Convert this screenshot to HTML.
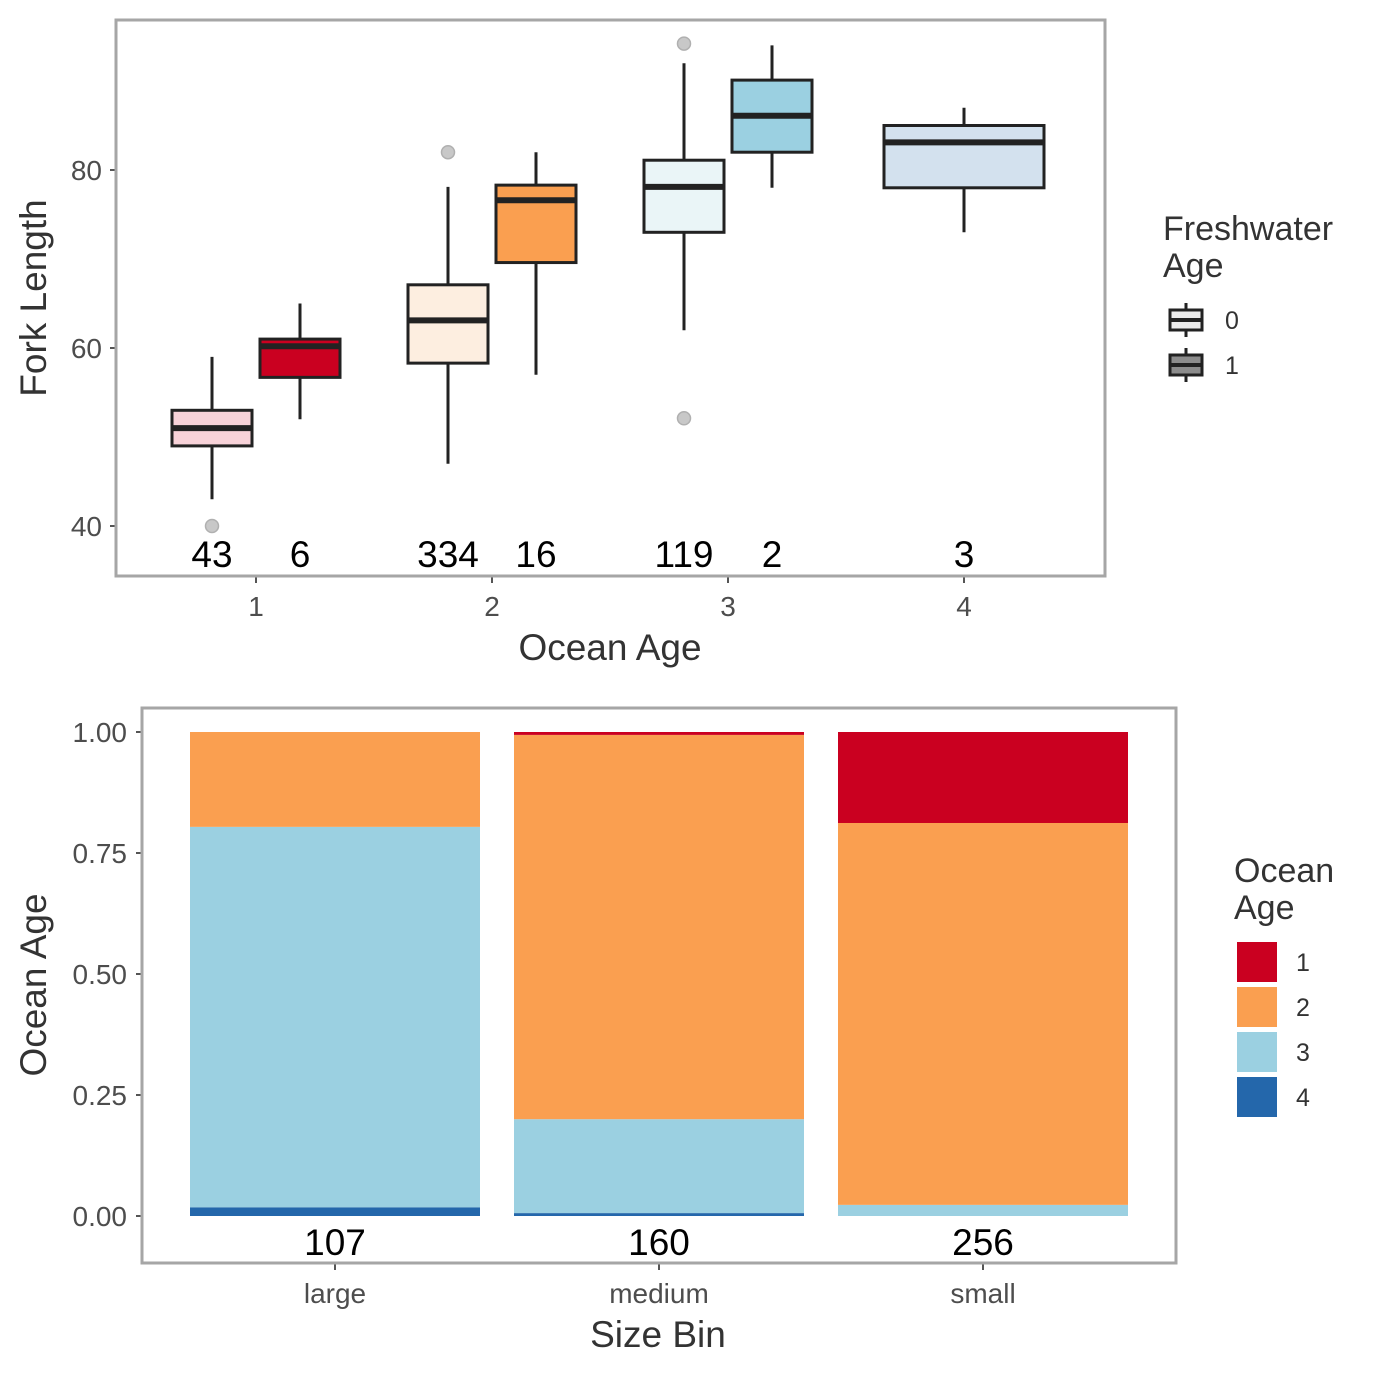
<!DOCTYPE html>
<html><head><meta charset="utf-8"><style>
html,body{margin:0;padding:0;background:#fff;}
svg{display:block;font-family:"Liberation Sans",Arial,sans-serif;}
</style></head><body>
<svg id="chart" width="1375" height="1375" viewBox="0 0 1375 1375" xmlns="http://www.w3.org/2000/svg"></svg>
<script>
// ---- Top chart data ----
const oceanAges = [1,2,3,4];
const boxGroups = ["1-0","1-1","2-0","2-1","3-0","3-1","4-0"];
const boxOcean = [1,1,2,2,3,3,4];
const boxFresh = [0,1,0,1,0,1,0];
const boxLow = [43,52,47,57,62,78,73];
const boxQ1 = [49,56.7,58.3,69.6,73,82,78];
const boxMed = [51,60.2,63.1,76.6,78.1,86.1,83.1];
const boxQ3 = [53,61,67.1,78.3,81.1,90.1,85];
const boxHigh = [59,65,78.1,82,92,94,87];
const boxOutliers = [[40],[],[82],[],[94.2,52.1],[],[]];
const boxCounts = ["43","6","334","16","119","2","3"];
const boxColors = ["#f7d2d8","#ca0020","#fdeee0","#fa9f50","#eaf5f7","#9bd0e1","#d3e1ee"];
const topYTicks = [40,60,80];
// ---- Bottom chart data ----
const sizeBins = ["large","medium","small"];
const binCounts = ["107","160","256"];
const oa4 = [0.018,0.006,0];
const oa3 = [0.786,0.194,0.023];
const oa2 = [0.196,0.794,0.789];
const oa1 = [0,0.006,0.188];
const stackColors = ["#ca0020","#fa9f50","#9bd0e1","#2467ab"];
const botYTicks = [0,0.25,0.5,0.75,1];
const botYLabels = ["0.00","0.25","0.50","0.75","1.00"];

const svgEl = document.getElementById('chart');
const NS = "http://www.w3.org/2000/svg";
function mk(tag, attrs, parent){const e=document.createElementNS(NS,tag);for(const k in attrs)e.setAttribute(k,attrs[k]);(parent||svgEl).appendChild(e);return e;}
function txt(s, attrs, parent){const e=mk('text',attrs,parent);e.textContent=s;return e;}

// ----- Top panel -----
const yTop = v => 526 - (v-40)*8.9;
const xTop = oa => 256 + (oa-1)*236;
const topG = mk('g',{});


topYTicks.forEach(t=>{
  const y=yTop(t);
  const l=mk('line',{x1:110,x2:116,y1:y,y2:y,stroke:'#555','stroke-width':2},topG);
  
  
  const tl=txt(String(t),{x:102,y:y+10,'text-anchor':'end','font-size':28,fill:'#4d4d4d'},topG);
  
  
});
oceanAges.forEach(a=>{
  const x=xTop(a);
  const l=mk('line',{x1:x,x2:x,y1:576,y2:583,stroke:'#555','stroke-width':2},topG);
  
  
  const tl=txt(String(a),{x:x,y:616,'text-anchor':'middle','font-size':28,fill:'#4d4d4d'},topG);
  
  
});
boxGroups.forEach((g,i)=>{
  const single = boxOcean[i]===4;
  const cx = xTop(boxOcean[i]) + (single?0:(boxFresh[i]===0?-44:44));
  const w = single?160:80;
  const bg=mk('g',{},topG);
  
  
  mk('line',{x1:cx,x2:cx,y1:yTop(boxHigh[i]),y2:yTop(boxLow[i]),stroke:'#222','stroke-width':3},bg);
  mk('rect',{x:cx-w/2,y:yTop(boxQ3[i]),width:w,height:yTop(boxQ1[i])-yTop(boxQ3[i]),fill:boxColors[i],stroke:'#222','stroke-width':3},bg);
  mk('line',{x1:cx-w/2,x2:cx+w/2,y1:yTop(boxMed[i]),y2:yTop(boxMed[i]),stroke:'#222','stroke-width':6},bg);
  boxOutliers[i].forEach(o=>{
    const c=mk('circle',{cx:cx,cy:yTop(o),r:6.5,fill:'#c8c8c8',stroke:'#b0b0b0','stroke-width':1.5},bg);
    
    
  });
  const ct=txt(boxCounts[i],{x:cx,y:567,'text-anchor':'middle','font-size':37,fill:'#000'},topG);
  
  
});
const f1=mk('rect',{x:116,y:20,width:989,height:556,fill:'none',stroke:'#a6a6a6','stroke-width':3},topG);


const xt1=txt('Ocean Age',{x:610,y:660,'text-anchor':'middle','font-size':37,fill:'#333'},topG);


const yt1=txt('Fork Length',{x:0,y:0,'text-anchor':'middle','font-size':37,fill:'#333',transform:'translate(46,298) rotate(-90)'},topG);


const lg1=mk('g',{},topG);


txt('Freshwater',{x:1163,y:240,'font-size':34,fill:'#333'},lg1);
txt('Age',{x:1163,y:277,'font-size':34,fill:'#333'},lg1);
[["0","#ececec",320],["1","#8c8c8c",365]].forEach(([lab,col,y])=>{
  const e=mk('g',{},lg1);
  
  
  mk('line',{x1:1186,x2:1186,y1:y-17,y2:y+17,stroke:'#222','stroke-width':3},e);
  mk('rect',{x:1170,y:y-10,width:32,height:20,fill:col,stroke:'#222','stroke-width':3},e);
  mk('line',{x1:1170,x2:1202,y1:y,y2:y,stroke:'#222','stroke-width':4},e);
  txt(lab,{x:1225,y:y+9,'font-size':25,fill:'#333'},e);
});

// ----- Bottom panel -----
const yBot = v => 1216 - v*484;
const xBot = i => 335 + i*324;
const botG=mk('g',{});


botYTicks.forEach((t,i)=>{
  const y=yBot(t);
  const l=mk('line',{x1:136,x2:142,y1:y,y2:y,stroke:'#555','stroke-width':2},botG);
  
  
  const tl=txt(botYLabels[i],{x:127,y:y+10,'text-anchor':'end','font-size':28,fill:'#4d4d4d'},botG);
  
  
});
sizeBins.forEach((b,i)=>{
  const cx=xBot(i), w=290;
  const segs=[[oa4[i],stackColors[3],4],[oa3[i],stackColors[2],3],[oa2[i],stackColors[1],2],[oa1[i],stackColors[0],1]];
  let acc=0;
  segs.forEach(([v,col,oa])=>{
    if(v<=0)return;
    const r=mk('rect',{x:cx-w/2,y:yBot(acc+v),width:w,height:yBot(acc)-yBot(acc+v),fill:col},botG);
    
    
    acc+=v;
  });
  const l=mk('line',{x1:cx,x2:cx,y1:1263,y2:1270,stroke:'#555','stroke-width':2},botG);
  
  
  const tl=txt(b,{x:cx,y:1303,'text-anchor':'middle','font-size':28,fill:'#4d4d4d'},botG);
  
  
  const ct=txt(binCounts[i],{x:cx,y:1255,'text-anchor':'middle','font-size':37,fill:'#000'},botG);
  
  
});
const f2=mk('rect',{x:142,y:708,width:1034,height:555,fill:'none',stroke:'#a6a6a6','stroke-width':3},botG);


const xt2=txt('Size Bin',{x:658,y:1347,'text-anchor':'middle','font-size':37,fill:'#333'},botG);


const yt2=txt('Ocean Age',{x:0,y:0,'text-anchor':'middle','font-size':37,fill:'#333',transform:'translate(46,985) rotate(-90)'},botG);


const lg2=mk('g',{},botG);


txt('Ocean',{x:1234,y:882,'font-size':34,fill:'#333'},lg2);
txt('Age',{x:1234,y:919,'font-size':34,fill:'#333'},lg2);
["1","2","3","4"].forEach((lab,i)=>{
  const y=942+i*45;
  const e=mk('g',{},lg2);
  
  
  mk('rect',{x:1237,y:y,width:40,height:40,fill:stackColors[i]},e);
  txt(lab,{x:1296,y:y+29,'font-size':25,fill:'#333'},e);
});
</script>
</body></html>
